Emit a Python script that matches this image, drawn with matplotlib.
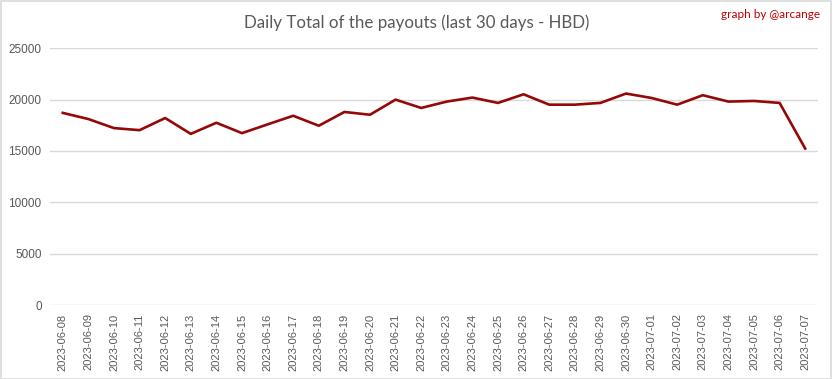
import matplotlib
matplotlib.use("Agg")
import matplotlib.pyplot as plt
from matplotlib.patches import Rectangle

dates = ["2023-06-08", "2023-06-09", "2023-06-10", "2023-06-11", "2023-06-12", "2023-06-13",
         "2023-06-14", "2023-06-15", "2023-06-16", "2023-06-17", "2023-06-18", "2023-06-19",
         "2023-06-20", "2023-06-21", "2023-06-22", "2023-06-23", "2023-06-24", "2023-06-25",
         "2023-06-26", "2023-06-27", "2023-06-28", "2023-06-29", "2023-06-30", "2023-07-01",
         "2023-07-02", "2023-07-03", "2023-07-04", "2023-07-05", "2023-07-06", "2023-07-07"]
payouts = [18700, 18100, 17220, 17020, 18200, 16660, 17740, 16730, 17580, 18420,
           17450, 18790, 18520, 19990, 19180, 19800, 20190, 19670, 20510, 19500,
           19500, 19670, 20580, 20150, 19500, 20420, 19800, 19860, 19670, 15230]
yticks = [0, 5000, 10000, 15000, 20000, 25000]

fig = plt.figure(figsize=(8.33, 3.79), dpi=100)
fig.patches.append(Rectangle((0.001, 0.001), 0.997, 0.996, transform=fig.transFigure,
                             fill=False, edgecolor="#d9d9d9", linewidth=1.2))
ax = fig.add_axes([0.060, 0.195, 0.922, 0.678])
x = list(range(len(dates)))
ax.plot(x, payouts, color="#950808", linewidth=1.9)
ax.set_xlim(-0.5, len(dates) - 0.5)
ax.set_ylim(0, 25000)
ax.set_yticks(yticks)
ax.set_yticklabels([str(v) for v in yticks], fontsize=8.5, color="#595959", family="Liberation Sans")
ax.set_xticks(x)
ax.set_xticklabels(dates, rotation=90, fontsize=8, color="#595959", family="Liberation Sans")
ax.grid(axis="y", color="#d9d9d9", linewidth=1)
ax.set_axisbelow(True)
for s in ax.spines.values():
    s.set_visible(False)
ax.tick_params(axis="both", length=0, pad=6)
fig.text(0.5, 0.94, "Daily Total of the payouts (last 30 days - HBD)", ha="center", va="center",
         fontsize=12.2, color="#595959", family="Lato")
fig.text(0.985, 0.962, "graph by @arcange", ha="right", va="center", fontsize=8.5,
         color="#c00000", family="Lato")
fig.savefig("out.png", dpi=100)
